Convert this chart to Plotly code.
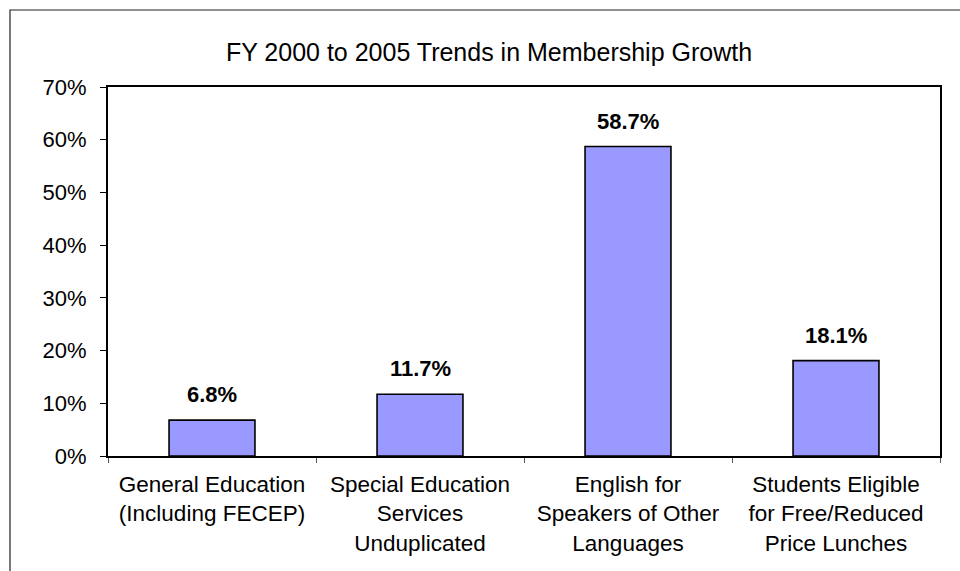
import plotly.graph_objects as go

# Membership growth, FY 2000 to 2005
categories = [
    "General Education<br>(Including FECEP)",
    "Special Education<br>Services<br>Unduplicated",
    "English for<br>Speakers of Other<br>Languages",
    "Students Eligible<br>for Free/Reduced<br>Price Lunches",
]
growth = [0.068, 0.117, 0.587, 0.181]
y_ticks = [0, 0.1, 0.2, 0.3, 0.4, 0.5, 0.6, 0.7]

FONT = "Liberation Sans, Arial, sans-serif"
W, H = 960, 571
L, R, T, B = 108, 20, 87, 115

fig = go.Figure()
fig.add_trace(go.Bar(
    x=categories,
    y=growth,
    marker=dict(color="#9999FF", line=dict(color="#000000", width=1.6)),
    hoverinfo="skip",
))

# value labels above each bar
for c, v in zip(categories, growth):
    fig.add_annotation(
        x=c, y=v, text=f"<b>{v * 100:.1f}%</b>",
        showarrow=False, yanchor="bottom", yshift=11,
        font=dict(family=FONT, size=22, color="#000000"),
    )

# outer chart frame
pw, ph = W - L - R, H - T - B
fig.add_shape(
    type="rect", xref="paper", yref="paper",
    x0=(10 - L) / pw, x1=2.0,
    y0=-2.0, y1=(H - B - 10) / ph,
    line=dict(color="#222222", width=1.2), fillcolor="rgba(0,0,0,0)",
    layer="below",
)

fig.update_layout(
    width=W, height=H,
    margin=dict(l=L, r=R, t=T, b=B),
    paper_bgcolor="white", plot_bgcolor="white",
    bargap=0.587,
    showlegend=False,
    font=dict(family=FONT, size=22, color="#000000"),
    title=dict(
        text="FY 2000 to 2005 Trends in Membership Growth",
        x=489 / W, xref="container", xanchor="center",
        y=1 - 52 / H, yref="container", yanchor="middle",
        font=dict(family=FONT, size=25, color="#000000"),
    ),
    xaxis=dict(
        type="category",
        tickson="boundaries",
        ticks="outside", ticklen=5, tickwidth=1, tickcolor="#555555",
        showline=True, linecolor="#000000", linewidth=2, mirror=True,
        showgrid=False,
        tickfont=dict(family=FONT, size=22.5, color="#000000"),
        ticklabelstandoff=7,
    ),
    yaxis=dict(
        range=[0, 0.7],
        tickvals=y_ticks,
        tickformat=".0%",
        ticks="outside", ticklen=6, tickwidth=1, tickcolor="#000000",
        showline=True, linecolor="#000000", linewidth=2, mirror=True,
        showgrid=False, zeroline=False,
        tickfont=dict(family=FONT, size=22, color="#000000"),
        ticklabelstandoff=9,
    ),
)

fig.write_html("out.html")
